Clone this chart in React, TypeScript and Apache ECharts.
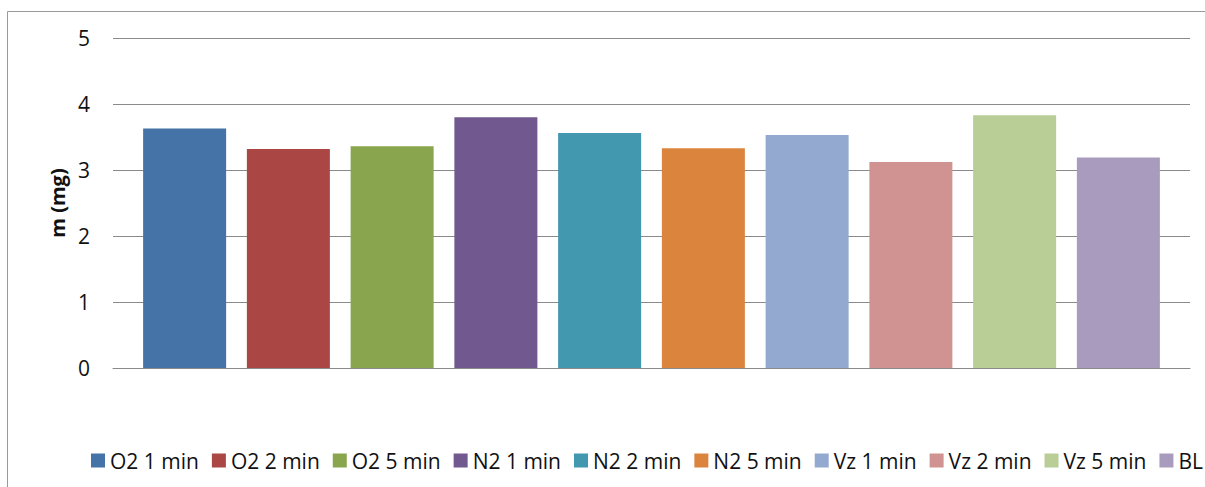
import React, { useEffect, useRef } from "react";
import * as echarts from "echarts";

// Measured mass per treatment
const seriesNames = [
  "O2 1 min",
  "O2 2 min",
  "O2 5 min",
  "N2 1 min",
  "N2 2 min",
  "N2 5 min",
  "Vz 1 min",
  "Vz 2 min",
  "Vz 5 min",
  "BL",
];
const massValues = [3.63, 3.32, 3.36, 3.8, 3.56, 3.33, 3.53, 3.12, 3.83, 3.19];
const seriesColors = [
  "#4572A7",
  "#AA4643",
  "#89A54E",
  "#71588F",
  "#4198AF",
  "#DB843D",
  "#93A9CF",
  "#D19392",
  "#B9CD96",
  "#A99BBD",
];
const categories = [""];

const FONT = "'Open Sans', 'DejaVu Sans', sans-serif";

export default function App() {
  const ref = useRef<HTMLDivElement>(null);

  useEffect(() => {
    if (!ref.current) return;
    const chart = echarts.init(ref.current, undefined, { renderer: "svg" });

    const series = seriesNames.map((name, i) => ({
      name,
      type: "bar" as const,
      data: [massValues[i]],
      barWidth: 83,
      barGap: "25%",
      itemStyle: { color: seriesColors[i] },
    }));

    chart.setOption({
      animation: false,
      backgroundColor: "#fff",
      graphic: [
        {
          type: "rect",
          shape: { x: 7.5, y: 11.5, width: 1400, height: 700 },
          style: { fill: "none", stroke: "#9a9a9a", lineWidth: 1 },
          silent: true,
          z: -10,
        },
      ],
      grid: { left: 113, right: 15, top: 38, bottom: 119 },
      legend: {
        data: seriesNames,
        left: 86,
        top: 445,
        width: 1118,
        icon: "rect",
        itemWidth: 14,
        itemHeight: 14,
        itemGap: 13,
        textStyle: { fontFamily: FONT, fontSize: 21, color: "#111" },
      },
      xAxis: {
        type: "category",
        data: categories,
        axisLine: { show: true, lineStyle: { color: "#8a8a8a", width: 1 } },
        axisTick: { show: false },
        axisLabel: { show: false },
      },
      yAxis: {
        type: "value",
        min: 0,
        max: 5,
        interval: 1,
        name: "m (mg)",
        nameLocation: "middle",
        nameGap: 46,
        nameTextStyle: {
          fontFamily: FONT,
          fontSize: 20,
          fontWeight: "bold",
          color: "#111",
        },
        axisLine: { show: false },
        axisTick: { show: false },
        axisLabel: {
          fontFamily: FONT,
          fontSize: 21,
          color: "#111",
          margin: 23,
        },
        splitLine: { lineStyle: { color: "#8a8a8a", width: 1 } },
      },
      series,
    });

    return () => chart.dispose();
  }, []);

  return (
    <div
      ref={ref}
      style={{ position: "absolute", left: 0, top: 0, width: 1205, height: 487 }}
    />
  );
}
